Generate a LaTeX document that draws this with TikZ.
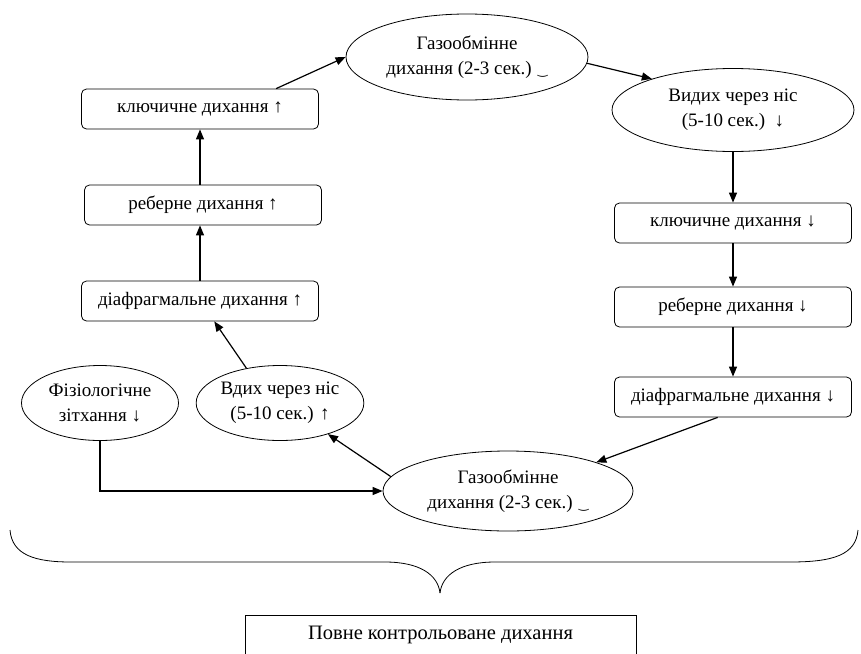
\documentclass[tikz,border=0pt]{standalone}
\usepackage{fontspec}
\setmainfont{Liberation Serif}
\newfontfamily\tiefont{DejaVu Sans}
\usetikzlibrary{shapes.geometric,arrows.meta}

\tikzset{
  stagebox/.style={draw, rounded corners=5pt, minimum width=237pt, minimum height=40pt, inner sep=0pt, line width=0.8pt},
  phase/.style={draw, ellipse, inner sep=0pt, align=center, line width=0.8pt},
  link/.style={-{Triangle[length=10pt,width=8pt]}, line width=1.2pt},
}
\newcommand{\pausetie}{{\tiefont\fontsize{12}{12}\selectfont ‿}}

\begin{document}
\begin{tikzpicture}[x=1pt, y=-1pt, font=\fontsize{19}{25}\selectfont]

\useasboundingbox (0,0) rectangle (861,653);

% Top gas exchange
\node[phase, minimum width=242pt, minimum height=86pt] (gastop) at (467,57) {Газообмінне\\дихання (2-3 сек.) \pausetie};

% Exhale branch
\node[phase, minimum width=242pt, minimum height=83pt] (exhale) at (733,110) {Видих через ніс\\(5-10 сек.) \,↓};
\node[stagebox] (clavdown) at (733,223) {ключичне дихання ↓};
\node[stagebox] (ribdown) at (733,307) {реберне дихання ↓};
\node[stagebox] (diadown) at (733,397) {діафрагмальне дихання ↓};

% Bottom gas exchange
\node[phase, minimum width=250pt, minimum height=80pt] (gasbot) at (508,491) {Газообмінне\\дихання (2-3 сек.) \pausetie};

% Inhale branch
\node[phase, minimum width=165pt, minimum height=75pt] (inhale) at (280,403) {Вдих через ніс\\(5-10 сек.) ↑};
\node[stagebox] (diaup) at (200,301) {діафрагмальне дихання ↑};
\node[stagebox] (ribup) at (203,205) {реберне дихання ↑};
\node[stagebox] (clavup) at (200,109) {ключичне дихання ↑};

% Sigh
\node[phase, minimum width=157pt, minimum height=75pt] (sigh) at (100,403) {Фізіологічне\\зітхання ↓};

% Connectors
\draw[link] (clavup.15) -- (gastop.west);
\draw[link] (gastop.-3) -- (exhale.159);
\draw[link] (exhale.south) -- (clavdown.north);
\draw[link] (clavdown.south) -- (ribdown.north);
\draw[link] (ribdown.south) -- (diadown.north);
\draw[link] (diadown.-127) -- (gasbot.18);
\draw[link] (gasbot.173) -- (inhale.-33);
\draw[link] (inhale.134) -- (diaup.-55);
\draw[link] (diaup.north) -- (diaup.north |- ribup.south);
\draw[link] (ribup.north -| clavup.south) -- (clavup.south);
\draw[link] (sigh.south) |- (gasbot.west);

% Brace
\draw[line width=0.8pt] (10,530) .. controls (12,555) and (35,562) .. (71,562) -- (385,562)
  .. controls (420,562) and (438,575) .. (440,593);
\draw[line width=0.8pt] (858,530) .. controls (856,555) and (833,562) .. (790,562) -- (495,562)
  .. controls (460,562) and (442,575) .. (440,593);

% Result
\node[draw, minimum width=391pt, minimum height=40pt, line width=0.8pt, font=\fontsize{20.5}{24}\selectfont] (total) at (440.5,635) {Повне контрольоване дихання};

\end{tikzpicture}
\end{document}
